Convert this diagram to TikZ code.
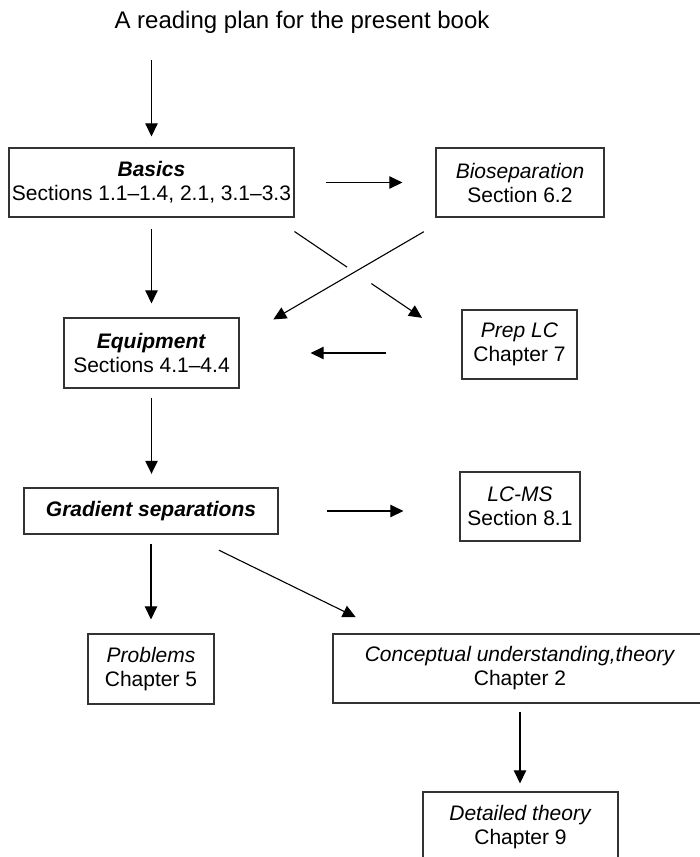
\documentclass[tikz,border=0pt]{standalone}
\usepackage{fontspec}
\setmainfont{Liberation Sans}
\usetikzlibrary{arrows.meta}

\begin{document}
\begin{tikzpicture}[
    x=0.5pt, y=-0.5pt,
    every node/.style={font=\fontsize{10.5}{12}\selectfont, align=center, inner sep=0pt},
    box/.style={draw=black!80, line width=0.6pt, minimum height=34.5pt},
    conn/.style={->, line width=0.55pt},
    >={Triangle[length=6.5pt, width=6.2pt]}
]

\useasboundingbox (0,0) rectangle (700,857);

% --- Title ---
\node[font=\fontsize{12}{14}\selectfont] (title) at (302,22) {A reading plan for the present book};

% --- Main column ---
\node[box, minimum width=142.5pt] (basics) at (151.5,182.5)
    {\textbf{\textit{Basics}}\\Sections 1.1\textendash1.4, 2.1, 3.1\textendash3.3};
\node[box, minimum width=87.5pt, minimum height=35pt] (equip) at (151.5,353)
    {\textbf{\textit{Equipment}}\\Sections 4.1\textendash4.4};
\node[box, line width=1.2pt, minimum width=127pt, minimum height=23pt] (grad) at (151,511)
    {\textbf{\textit{Gradient separations}}};
\node[box, minimum width=63pt, minimum height=35pt] (prob) at (151,669)
    {\textit{Problems}\\Chapter 5};

% --- Side topics ---
\node[box, minimum width=84pt] (bio) at (520,182.5) {\textit{Bioseparation}\\Section 6.2};
\node[box, minimum width=57.5pt] (prep) at (519.5,344.5) {\textit{Prep LC}\\Chapter 7};
\node[box, minimum width=60pt] (lcms) at (520,506.5) {\textit{LC-MS}\\Section 8.1};
\node[box, minimum width=187pt] (concept) at (520,668.5)
    {\textit{Conceptual understanding,theory}\\Chapter 2};
\node[box, minimum width=97.5pt, minimum height=35pt] (detail) at (520.5,827)
    {\textit{Detailed theory}\\Chapter 9};

% --- Straight arrows ---
\draw[conn, shorten <=13pt, shorten >=5.5pt] (title.south -| basics.north) -- (basics.north);
\draw[conn, shorten <=15.5pt, shorten >=16.5pt] (basics.east) -- (bio.west);
\draw[conn, shorten <=5.5pt, shorten >=7pt] (basics) -- (equip);
\draw[conn, shorten <=37.5pt, shorten >=35.5pt] (prep.west |- equip.east) -- (equip.east);
\draw[conn, shorten <=4.5pt, shorten >=6.5pt] (equip.south) -- (equip.south |- grad.north);
\draw[conn, shorten <=24pt, shorten >=28pt] (grad.east) -- (grad.east -| lcms.west);
\draw[conn, shorten <=4.5pt, shorten >=7pt] (grad.south) -- (grad.south |- prob.north);
\draw[conn, shorten <=17pt, shorten >=18.5pt] (grad.-33) -- (concept.165);
\draw[conn, shorten <=4pt, shorten >=4pt] (concept.south) -- (concept.south |- detail.north);

% --- Crossing arrows (Basics -> Prep LC is broken where they cross) ---
\path (basics.-16.5) -- (prep.west)
    coordinate[pos=.11] (bp1) coordinate[pos=.39] (bp2)
    coordinate[pos=.52] (bp3) coordinate[pos=.79] (bp4);
\draw[conn, -] (bp1) -- (bp2);
\draw[conn] (bp3) -- (bp4);
\draw[conn, shorten <=14pt, shorten >=19.5pt] (bio.206) -- (equip.9);

\end{tikzpicture}
\end{document}
